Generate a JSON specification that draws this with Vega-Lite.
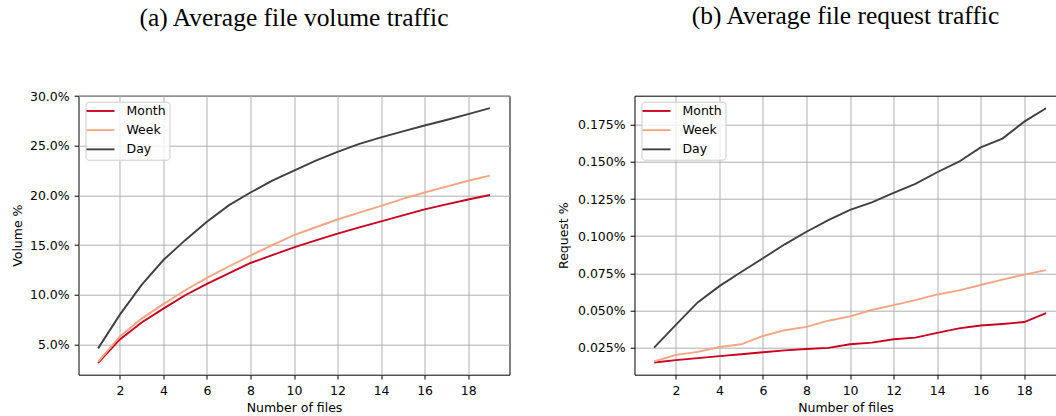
{
  "$schema": "https://vega.github.io/schema/vega-lite/v6.json",
  "background": "white",
  "padding": {"left": 10.5, "top": 3.7, "right": 0, "bottom": 0},
  "bounds": "flush",
  "spacing": 125,
  "datasets": {
    "volume": [
      {"files": 1, "period": "Month", "value": 3.15},
      {"files": 2, "period": "Month", "value": 5.5},
      {"files": 3, "period": "Month", "value": 7.2},
      {"files": 4, "period": "Month", "value": 8.6},
      {"files": 5, "period": "Month", "value": 9.95},
      {"files": 6, "period": "Month", "value": 11.1},
      {"files": 7, "period": "Month", "value": 12.15},
      {"files": 8, "period": "Month", "value": 13.2},
      {"files": 9, "period": "Month", "value": 14.0},
      {"files": 10, "period": "Month", "value": 14.78},
      {"files": 11, "period": "Month", "value": 15.47},
      {"files": 12, "period": "Month", "value": 16.15},
      {"files": 13, "period": "Month", "value": 16.78},
      {"files": 14, "period": "Month", "value": 17.4},
      {"files": 15, "period": "Month", "value": 18.0},
      {"files": 16, "period": "Month", "value": 18.6},
      {"files": 17, "period": "Month", "value": 19.1},
      {"files": 18, "period": "Month", "value": 19.6},
      {"files": 19, "period": "Month", "value": 20.05},
      {"files": 1, "period": "Week", "value": 3.25},
      {"files": 2, "period": "Week", "value": 5.8},
      {"files": 3, "period": "Week", "value": 7.6},
      {"files": 4, "period": "Week", "value": 9.06},
      {"files": 5, "period": "Week", "value": 10.45},
      {"files": 6, "period": "Week", "value": 11.7},
      {"files": 7, "period": "Week", "value": 12.85},
      {"files": 8, "period": "Week", "value": 13.95},
      {"files": 9, "period": "Week", "value": 15.0},
      {"files": 10, "period": "Week", "value": 16.0},
      {"files": 11, "period": "Week", "value": 16.8},
      {"files": 12, "period": "Week", "value": 17.58},
      {"files": 13, "period": "Week", "value": 18.28},
      {"files": 14, "period": "Week", "value": 18.96},
      {"files": 15, "period": "Week", "value": 19.65},
      {"files": 16, "period": "Week", "value": 20.3},
      {"files": 17, "period": "Week", "value": 20.9},
      {"files": 18, "period": "Week", "value": 21.48},
      {"files": 19, "period": "Week", "value": 22.0},
      {"files": 1, "period": "Day", "value": 4.6},
      {"files": 2, "period": "Day", "value": 8.0},
      {"files": 3, "period": "Day", "value": 11.0},
      {"files": 4, "period": "Day", "value": 13.5},
      {"files": 5, "period": "Day", "value": 15.5},
      {"files": 6, "period": "Day", "value": 17.35},
      {"files": 7, "period": "Day", "value": 19.0},
      {"files": 8, "period": "Day", "value": 20.3},
      {"files": 9, "period": "Day", "value": 21.5},
      {"files": 10, "period": "Day", "value": 22.5},
      {"files": 11, "period": "Day", "value": 23.5},
      {"files": 12, "period": "Day", "value": 24.4},
      {"files": 13, "period": "Day", "value": 25.2},
      {"files": 14, "period": "Day", "value": 25.85},
      {"files": 15, "period": "Day", "value": 26.45},
      {"files": 16, "period": "Day", "value": 27.05},
      {"files": 17, "period": "Day", "value": 27.6},
      {"files": 18, "period": "Day", "value": 28.2},
      {"files": 19, "period": "Day", "value": 28.8}
    ],
    "request": [
      {"files": 1, "period": "Month", "value": 0.0148},
      {"files": 2, "period": "Month", "value": 0.0164},
      {"files": 3, "period": "Month", "value": 0.0178},
      {"files": 4, "period": "Month", "value": 0.0191},
      {"files": 5, "period": "Month", "value": 0.0204},
      {"files": 6, "period": "Month", "value": 0.0217},
      {"files": 7, "period": "Month", "value": 0.023},
      {"files": 8, "period": "Month", "value": 0.0239},
      {"files": 9, "period": "Month", "value": 0.0247},
      {"files": 10, "period": "Month", "value": 0.0271},
      {"files": 11, "period": "Month", "value": 0.0282},
      {"files": 12, "period": "Month", "value": 0.0305},
      {"files": 13, "period": "Month", "value": 0.0316},
      {"files": 14, "period": "Month", "value": 0.0348},
      {"files": 15, "period": "Month", "value": 0.0378},
      {"files": 16, "period": "Month", "value": 0.0398},
      {"files": 17, "period": "Month", "value": 0.0408},
      {"files": 18, "period": "Month", "value": 0.0421},
      {"files": 19, "period": "Month", "value": 0.0481},
      {"files": 1, "period": "Week", "value": 0.0155},
      {"files": 2, "period": "Week", "value": 0.02},
      {"files": 3, "period": "Week", "value": 0.022},
      {"files": 4, "period": "Week", "value": 0.0253},
      {"files": 5, "period": "Week", "value": 0.0271},
      {"files": 6, "period": "Week", "value": 0.0327},
      {"files": 7, "period": "Week", "value": 0.0366},
      {"files": 8, "period": "Week", "value": 0.0388},
      {"files": 9, "period": "Week", "value": 0.043},
      {"files": 10, "period": "Week", "value": 0.0459},
      {"files": 11, "period": "Week", "value": 0.0502},
      {"files": 12, "period": "Week", "value": 0.0535},
      {"files": 13, "period": "Week", "value": 0.0569},
      {"files": 14, "period": "Week", "value": 0.0607},
      {"files": 15, "period": "Week", "value": 0.0634},
      {"files": 16, "period": "Week", "value": 0.0671},
      {"files": 17, "period": "Week", "value": 0.0707},
      {"files": 18, "period": "Week", "value": 0.0741},
      {"files": 19, "period": "Week", "value": 0.0771},
      {"files": 1, "period": "Day", "value": 0.0249},
      {"files": 2, "period": "Day", "value": 0.0402},
      {"files": 3, "period": "Day", "value": 0.0553},
      {"files": 4, "period": "Day", "value": 0.0663},
      {"files": 5, "period": "Day", "value": 0.0758},
      {"files": 6, "period": "Day", "value": 0.0851},
      {"files": 7, "period": "Day", "value": 0.0945},
      {"files": 8, "period": "Day", "value": 0.103},
      {"files": 9, "period": "Day", "value": 0.1108},
      {"files": 10, "period": "Day", "value": 0.1177},
      {"files": 11, "period": "Day", "value": 0.1228},
      {"files": 12, "period": "Day", "value": 0.1292},
      {"files": 13, "period": "Day", "value": 0.1352},
      {"files": 14, "period": "Day", "value": 0.1431},
      {"files": 15, "period": "Day", "value": 0.1502},
      {"files": 16, "period": "Day", "value": 0.1598},
      {"files": 17, "period": "Day", "value": 0.1658},
      {"files": 18, "period": "Day", "value": 0.1772},
      {"files": 19, "period": "Day", "value": 0.1862}
    ]
  },
  "hconcat": [
    {
      "width": 431,
      "height": 279,
      "title": {"text": "(a) Average file volume traffic", "offset": 58.5},
      "data": {"name": "volume"},
      "mark": {"type": "line", "strokeWidth": 1.9},
      "encoding": {
        "x": {
          "field": "files",
          "type": "quantitative",
          "scale": {"domain": [0.1, 19.9], "nice": false, "zero": false},
          "axis": {
            "values": [2, 4, 6, 8, 10, 12, 14, 16, 18],
            "title": "Number of files",
            "titleY": 37,
            "titleBaseline": "alphabetic"
          }
        },
        "y": {
          "field": "value",
          "type": "quantitative",
          "scale": {"domain": [1.95, 30.05], "nice": false, "zero": false},
          "axis": {
            "values": [5, 10, 15, 20, 25, 30],
            "labelExpr": "format(datum.value, '.1f') + '%'",
            "title": "Volume %",
            "titleX": -61,
            "titleY": 139.5,
            "titleAngle": 270,
            "titleAlign": "center",
            "titleBaseline": "middle"
          }
        },
        "color": {
          "field": "period",
          "type": "nominal",
          "scale": {"domain": ["Month", "Week", "Day"], "range": ["#ca0020", "#f4a582", "#404040"]},
          "legend": {"title": null, "orient": "none", "legendX": 7, "legendY": 6}
        }
      }
    },
    {
      "width": 422,
      "height": 279,
      "title": {"text": "(b) Average file request traffic", "offset": 66.5},
      "view": {"stroke": null},
      "data": {"name": "request"},
      "layer": [
        {
          "mark": {"type": "line", "strokeWidth": 1.9},
          "encoding": {
            "x": {
              "field": "files",
              "type": "quantitative",
              "scale": {"domain": [0.1, 19.48], "nice": false, "zero": false},
              "axis": {
                "values": [2, 4, 6, 8, 10, 12, 14, 16, 18],
                "domain": true,
                "title": "Number of files",
                "titleY": 37,
                "titleBaseline": "alphabetic"
              }
            },
            "y": {
              "field": "value",
              "type": "quantitative",
              "title": "Request %",
              "scale": {"domain": [0.0066, 0.1947], "nice": false, "zero": false},
              "axis": {
                "values": [0.025, 0.05, 0.075, 0.1, 0.125, 0.15, 0.175],
                "labelExpr": "format(datum.value, '.3f') + '%'",
                "domain": true,
                "titleX": -71,
                "titleY": 139.5,
                "titleAngle": 270,
                "titleAlign": "center",
                "titleBaseline": "middle"
              }
            },
            "color": {
              "field": "period",
              "type": "nominal",
              "scale": {"domain": ["Month", "Week", "Day"], "range": ["#ca0020", "#f4a582", "#404040"]},
              "legend": {"title": null, "orient": "none", "legendX": 7, "legendY": 6}
            }
          }
        },
        {
          "mark": {"type": "line", "opacity": 0},
          "encoding": {
            "x": {
              "field": "files",
              "type": "quantitative",
              "scale": {"domain": [0.1, 19.48], "nice": false, "zero": false},
              "axis": {"orient": "top", "labels": false, "ticks": false, "grid": false, "domain": true, "title": null}
            },
            "y": {"field": "value", "type": "quantitative", "title": "Request %"},
            "detail": {"field": "period", "type": "nominal"}
          }
        }
      ],
      "resolve": {"axis": {"x": "independent"}}
    }
  ],
  "resolve": {"scale": {"color": "independent"}, "legend": {"color": "independent"}},
  "config": {
    "font": "DejaVu Sans",
    "view": {"stroke": "black", "strokeWidth": 1},
    "title": {
      "font": "Liberation Serif",
      "fontSize": 25.5,
      "fontWeight": "normal",
      "color": "black",
      "anchor": "middle",
      "baseline": "alphabetic"
    },
    "axis": {
      "domain": false,
      "domainColor": "black",
      "domainWidth": 1,
      "grid": true,
      "gridColor": "#b0b0b0",
      "gridWidth": 1,
      "ticks": true,
      "tickColor": "black",
      "tickSize": 4.4,
      "tickWidth": 1,
      "labelFont": "DejaVu Sans",
      "labelFontSize": 12.5,
      "labelColor": "black",
      "labelPadding": 5,
      "labelFlush": false,
      "labelOverlap": false,
      "titleFont": "DejaVu Sans",
      "titleFontSize": 12.5,
      "titleFontWeight": "normal",
      "titleColor": "black"
    },
    "legend": {
      "padding": 3,
      "fillColor": "rgba(255,255,255,0.8)",
      "strokeColor": "#cccccc",
      "strokeWidth": 1,
      "cornerRadius": 3,
      "symbolType": "M-2.8,0H2.8",
      "symbolSize": 100,
      "symbolStrokeWidth": 1.9,
      "symbolOffset": 5.75,
      "labelOffset": 19.75,
      "rowPadding": 6.2,
      "labelFont": "DejaVu Sans",
      "labelFontSize": 12.5,
      "labelColor": "black"
    }
  }
}
